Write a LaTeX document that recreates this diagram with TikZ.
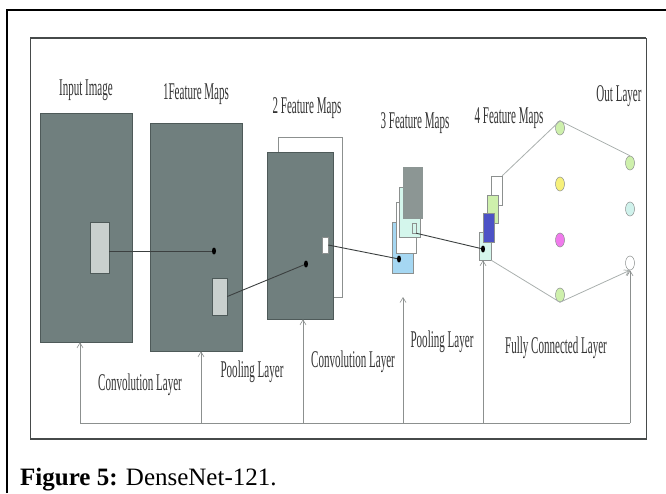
\documentclass[tikz,border=0pt]{standalone}
\usepackage{fontspec}
\setmainfont{Liberation Serif}
\newfontfamily\narrowfont[FakeStretch=0.46]{Liberation Serif}
\usetikzlibrary{arrows.meta,shapes.geometric}

\definecolor{mapgray}{RGB}{112,127,126}
\definecolor{mapedge}{RGB}{78,90,89}
\definecolor{patchgray}{RGB}{201,208,206}
\definecolor{framegray}{RGB}{70,74,74}
\definecolor{wiregray}{RGB}{60,64,64}
\definecolor{linkgray}{RGB}{170,176,174}
\definecolor{feedgray}{RGB}{140,144,143}
\definecolor{skyblue}{RGB}{165,215,242}
\definecolor{paleaqua}{RGB}{212,246,236}
\definecolor{stonegray}{RGB}{140,150,148}
\definecolor{palegreen}{RGB}{206,240,172}
\definecolor{deepblue}{RGB}{76,82,198}
\definecolor{nyellow}{RGB}{246,240,122}
\definecolor{nmagenta}{RGB}{240,122,236}
\definecolor{ncyan}{RGB}{208,242,236}

\tikzset{
  map/.style={rectangle, draw=mapedge, fill=mapgray, line width=0.6pt, inner sep=0},
  patch/.style={rectangle, draw=mapedge, fill=patchgray, line width=0.5pt, inner sep=0},
  sheet/.style={rectangle, draw=feedgray, fill=white, line width=0.5pt, inner sep=0},
  dot/.style={ellipse, fill=black, minimum width=4pt, minimum height=7pt, inner sep=0},
  neuron/.style={ellipse, draw=feedgray, line width=0.5pt, minimum width=9pt, minimum height=14pt, inner sep=0},
  wire/.style={draw=wiregray, line width=0.9pt},
  link/.style={draw=linkgray, line width=0.8pt},
  feed/.style={draw=feedgray, line width=0.6pt},
  up/.style={feed, -{Straight Barb[length=5pt, width=6pt]}},
  lbl/.style={font=\narrowfont\fontsize{24}{26}\selectfont, text=black!80, inner sep=0}
}

\begin{document}
\begin{tikzpicture}[x=1pt, y=-1pt]
\useasboundingbox (0,0) rectangle (666,493);

% Frames
\draw[line width=1.2pt] (7,493) -- (7,10) -- (666,10);
\draw[framegray, line width=0.7pt] (30,38) rectangle (646,439);
\draw[framegray, line width=2pt] (30,38) -- (646,38);
\draw[framegray, line width=2pt] (30,439) -- (646,439);

% Input image and feature maps
\node[map, minimum width=92pt, minimum height=229pt] (in) at (86,227.5) {};
\node[patch, minimum width=19pt, minimum height=51pt] (inp) at (99.5,247.5) {};
\node[map, minimum width=92pt, minimum height=228pt] (fm1) at (196,237) {};
\node[patch, minimum width=15pt, minimum height=37pt] (fm1p) at (219.5,296.5) {};
\node[sheet, minimum width=64pt, minimum height=160pt] (fm2b) at (310,217) {};
\node[map, minimum width=66pt, minimum height=167pt] (fm2) at (300,235.5) {};
\node[sheet, minimum width=6pt, minimum height=16pt] (fm2p) at (325,245) {};
\node[sheet, fill=skyblue, minimum width=21pt, minimum height=51pt] (fm3a) at (402.5,247.5) {};
\node[sheet, minimum width=20pt, minimum height=51pt] (fm3b) at (406,227.5) {};
\node[sheet, fill=paleaqua, minimum width=21pt, minimum height=50pt] (fm3c) at (409.5,212) {};
\node[sheet, fill=stonegray, draw=stonegray, minimum width=19pt, minimum height=51pt] (fm3d) at (412.5,192.5) {};
\node[sheet, fill=paleaqua, minimum width=4pt, minimum height=10pt] (fm3p) at (414,228) {};
\node[sheet, fill=paleaqua, minimum width=12pt, minimum height=28pt] (fm4a) at (485,246) {};
\node[sheet, minimum width=11pt, minimum height=29pt] (fm4b) at (496.5,190.5) {};
\node[sheet, fill=palegreen, minimum width=11pt, minimum height=28pt] (fm4c) at (492.5,209) {};
\node[sheet, fill=deepblue, minimum width=11pt, minimum height=29pt] (fm4d) at (488.5,227.5) {};

% Dots
\node[dot] (d1) at (214,251) {};
\node[dot] (d2) at (306,264) {};
\node[dot] (d3) at (399,259) {};
\node[dot] (d4) at (483,249) {};

% Neurons
\node[neuron, fill=palegreen] (n1) at (560,128) {};
\node[neuron, fill=nyellow] (n2) at (560,184) {};
\node[neuron, fill=nmagenta] (n3) at (560,240) {};
\node[neuron, fill=palegreen] (n4) at (560,295) {};
\node[neuron, fill=palegreen] (o1) at (630,163) {};
\node[neuron, fill=ncyan] (o2) at (630,209) {};
\node[neuron, fill=white] (o3) at (630,263) {};

% Edges
\draw[wire] (inp.east |- d1) -- (d1);
\draw[wire] (fm1p.east) -- (d2);
\draw[wire] (fm2p.east) -- (d3);
\draw[wire] (fm3p.south east) -- (d4);
\draw[link] (fm4b.north east) -- (n1.north);
\draw[link] (n1.north) -- (o1.north);
\draw[link] (fm4a.south east) -- (n4.south);
\draw[link, -{Straight Barb[length=5pt, width=6pt]}] (n4.south) -- (o3.south);

% Layer arrows
\coordinate (b1) at (80,423);
\coordinate (b2) at (201,423);
\coordinate (b3) at (303,423);
\coordinate (b4) at (403,423);
\coordinate (b5) at (483,423);
\coordinate (b6) at (630,423);
\coordinate (t4) at (403,297);
\draw[feed] (b1) -- (b6);
\draw[up] (b1) -- (b1 |- in.south);
\draw[up] (b2) -- (b2 |- fm1.south);
\draw[up] (b3) -- (b3 |- fm2.south);
\draw[up] (b4) -- (t4);
\draw[up] (b5) -- (b5 |- fm4a.south);
\draw[up] (b6) -- (o3.south);

% Labels
\node[lbl] (l1) at (86,90) {Input Image};
\node[lbl] (l2) at (196,94) {1Feature Maps};
\node[lbl] (l3) at (307,108) {2 Feature Maps};
\node[lbl] (l4) at (415,123) {3 Feature Maps};
\node[lbl] (l5) at (509,118) {4 Feature Maps};
\node[lbl] (l6) at (619,96) {Out Layer};
\node[lbl] (l7) at (140,385) {Convolution Layer};
\node[lbl] (l8) at (252,372) {Pooling Layer};
\node[lbl] (l9) at (353,362) {Convolution Layer};
\node[lbl] (l10) at (442,342) {Pooling Layer};
\node[lbl] (l11) at (556,348) {Fully Connected Layer};
\node[anchor=base west, font=\fontsize{25}{28}\selectfont, inner sep=0] (cap) at (20,485) {\textbf{Figure 5:} DenseNet-121.};
\end{tikzpicture}
\end{document}
